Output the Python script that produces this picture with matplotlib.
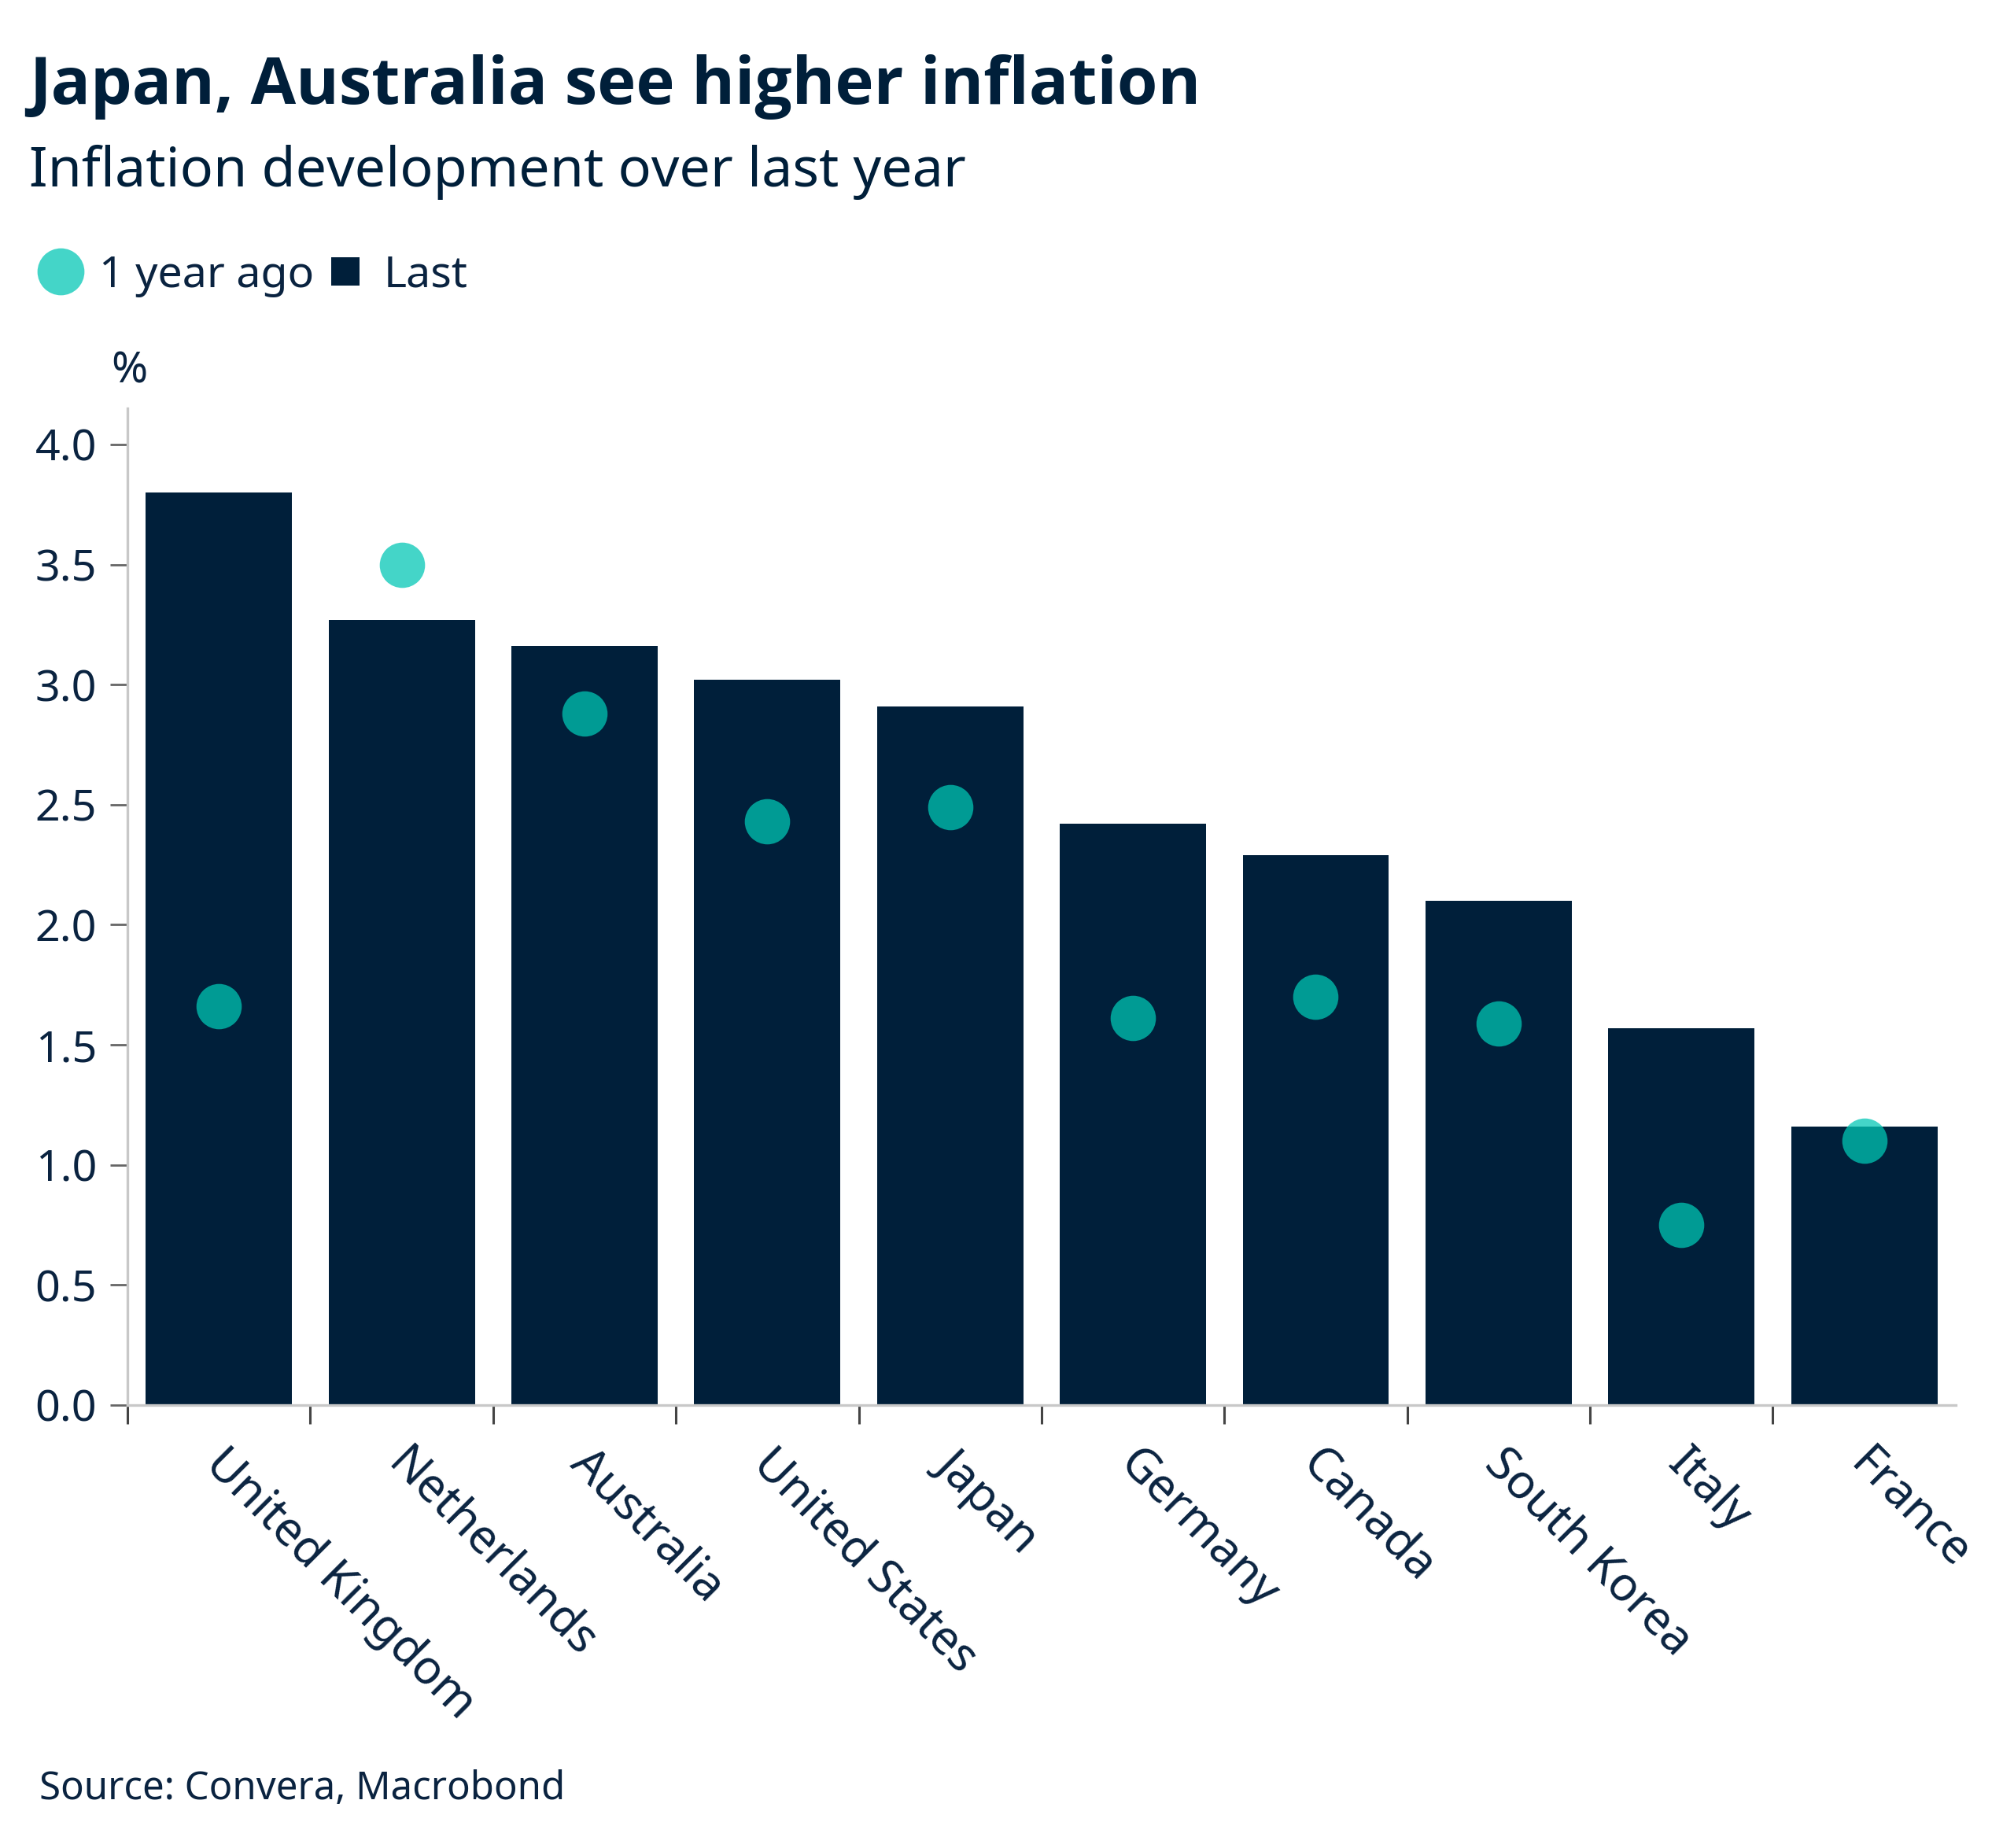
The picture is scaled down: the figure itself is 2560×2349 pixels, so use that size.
import numpy as np
import matplotlib.pyplot as plt
import matplotlib.transforms as mtransforms
from matplotlib.lines import Line2D

plt.rcParams['font.family'] = ['Noto Sans', 'DejaVu Sans']

countries = ["United Kingdom", "Netherlands", "Australia", "United States", "Japan",
             "Germany", "Canada", "South Korea", "Italy", "France"]
last = [3.80, 3.27, 3.16, 3.02, 2.91, 2.42, 2.29, 2.10, 1.57, 1.16]
year_ago = [1.66, 3.50, 2.88, 2.43, 2.49, 1.61, 1.70, 1.59, 0.75, 1.10]
yticks = [0.0, 0.5, 1.0, 1.5, 2.0, 2.5, 3.0, 3.5, 4.0]

NAVY = '#001f3a'
TEAL_LIGHT = '#44d5c8'
TEAL_DARK = '#009b94'
TXT = '#0a2340'

fig = plt.figure(figsize=(12.8, 11.745), dpi=200)
ax = fig.add_axes([0.0633, 0.2397, 0.9077, 0.5393])

x = np.arange(len(countries))
bars = ax.bar(x, last, width=0.8, color=NAVY, zorder=2)

# light dots sit under the bars, the dark copy is clipped to each bar
ax.scatter(x, year_ago, s=430, color=TEAL_LIGHT, zorder=1, linewidths=0)
for i, b in enumerate(bars):
    sc = ax.scatter([x[i]], [year_ago[i]], s=430, color=TEAL_DARK, zorder=3, linewidths=0)
    sc.set_clip_path(b)

ax.set_xlim(-0.5, len(countries) - 0.5)
ax.set_ylim(0, 4.15)
ax.set_yticks(yticks)
ax.set_yticklabels([f"{v:.1f}" for v in yticks])

ax.set_xticks(x)
ax.set_xticklabels(countries, rotation=-45, ha='left', va='top', rotation_mode='anchor')
ax.set_xticks(np.arange(len(countries)) - 0.5, minor=True)
ax.tick_params(axis='x', which='major', length=0, pad=16, labelsize=21.5, labelcolor=TXT)
ax.tick_params(axis='x', which='minor', length=8.5, width=1.1, color='#444444', direction='out')
ax.tick_params(axis='y', length=8, width=1, color='#666666', labelsize=20, labelcolor=TXT, pad=6)
shift = mtransforms.ScaledTranslation(0.065, 0, fig.dpi_scale_trans)
for lab in ax.get_xticklabels():
    lab.set_transform(lab.get_transform() + shift)

for s in ['top', 'right']:
    ax.spines[s].set_visible(False)
for s in ['left', 'bottom']:
    ax.spines[s].set_color('#c8c8c8')
    ax.spines[s].set_linewidth(1.2)

fig.text(0.0145, 0.944, "Japan, Australia see higher inflation", fontsize=30,
         fontweight='bold', family=['Open Sans', 'DejaVu Sans'], color=NAVY,
         va='baseline', ha='left')
fig.text(0.0145, 0.899, "Inflation development over last year", fontsize=25.2,
         color=NAVY, va='baseline', ha='left')
fig.text(0.055, 0.799, "%", fontsize=20, color=TXT, va='center', ha='left')
fig.text(0.0195, 0.0265, "Source: Convera, Macrobond", fontsize=17.7,
         color=TXT, va='baseline', ha='left')

handles = [Line2D([], [], linestyle='none', marker='o', markersize=21.5,
                  markerfacecolor=TEAL_LIGHT, markeredgewidth=0),
           Line2D([], [], linestyle='none', marker='s', markersize=13,
                  markerfacecolor=NAVY, markeredgewidth=0)]
fig.legend(handles, ["1 year ago", "Last"], loc='center left',
           bbox_to_anchor=(0.022, 0.851), ncol=2, frameon=False, fontsize=20,
           handlelength=0.75, handletextpad=0.5, columnspacing=0.35,
           borderpad=0, borderaxespad=0, labelcolor=TXT)

fig.savefig("out.png", dpi=200, facecolor='white')
